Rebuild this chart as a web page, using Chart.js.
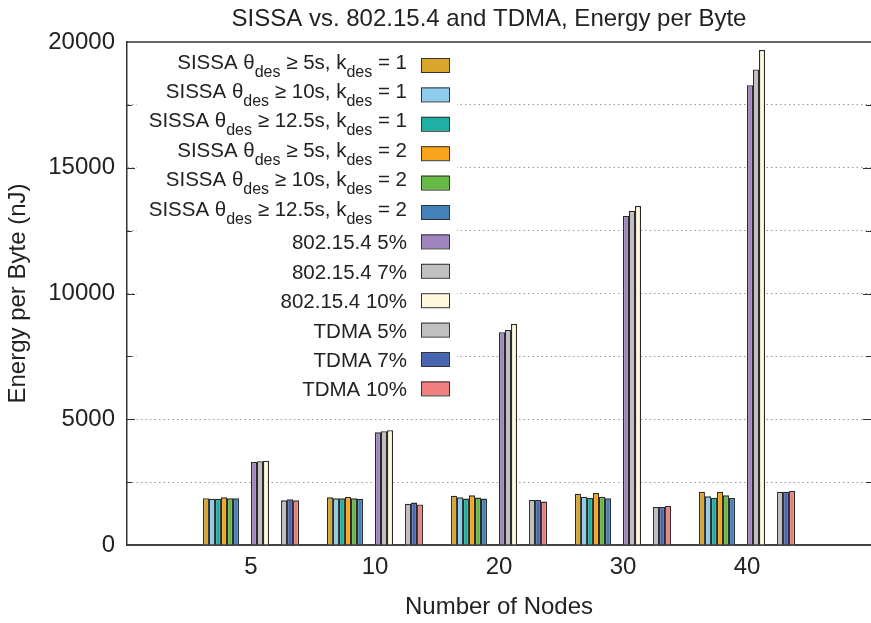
<!DOCTYPE html>
<html>
<head>
<meta charset="utf-8">
<title>SISSA vs. 802.15.4 and TDMA, Energy per Byte</title>
<script src="https://cdn.jsdelivr.net/npm/chart.js@4"></script>
<style>
  html, body { margin: 0; padding: 0; background: #fff; }
  #wrap { width: 871px; height: 623px; }
</style>
</head>
<body>
<div id="wrap"><canvas id="energyChart"></canvas></div>
<script>
// ---- Data: energy per byte (nJ) ----
const nodes = ['5', '10', '20', '30', '40'];

const sissa5k1   = [1860, 1895, 1960, 2040, 2120];
const sissa10k1  = [1840, 1855, 1895, 1920, 1935];
const sissa125k1 = [1840, 1855, 1845, 1880, 1880];
const sissa5k2   = [1895, 1910, 1975, 2070, 2120];
const sissa10k2  = [1855, 1855, 1885, 1915, 1975];
const sissa125k2 = [1855, 1840, 1845, 1855, 1870];
const ieee5      = [3300, 4480, 8460, 13080, 18280];
const ieee7      = [3330, 4520, 8550, 13290, 18910];
const ieee10     = [3350, 4560, 8790, 13480, 19680];
const tdma5      = [1775, 1645, 1790, 1510, 2120];
const tdma7      = [1815, 1685, 1790, 1510, 2120];
const tdma10     = [1775, 1615, 1725, 1550, 2145];

const yTicks = [0, 5000, 10000, 15000, 20000];

// legend text, "_{...}" marks a subscript
const series = [
    { label: 'SISSA θ_{des} ≥ 5s, k_{des} = 1',   data: sissa5k1,   color: '#d8a62a' },
    { label: 'SISSA θ_{des} ≥ 10s, k_{des} = 1',  data: sissa10k1,  color: '#8fcdee' },
    { label: 'SISSA θ_{des} ≥ 12.5s, k_{des} = 1', data: sissa125k1, color: '#1fb0a3' },
    { label: 'SISSA θ_{des} ≥ 5s, k_{des} = 2',   data: sissa5k2,   color: '#f9a51c' },
    { label: 'SISSA θ_{des} ≥ 10s, k_{des} = 2',  data: sissa10k2,  color: '#67b945' },
    { label: 'SISSA θ_{des} ≥ 12.5s, k_{des} = 2', data: sissa125k2, color: '#4381b8' },
    null, null,
    { label: '802.15.4 5%',  data: ieee5,  color: '#a086c0' },
    { label: '802.15.4 7%',  data: ieee7,  color: '#c0c0c0' },
    { label: '802.15.4 10%', data: ieee10, color: '#fff8dc' },
    null, null,
    { label: 'TDMA 5%',  data: tdma5,  color: '#c0c0c0' },
    { label: 'TDMA 7%',  data: tdma7,  color: '#4866b2' },
    { label: 'TDMA 10%', data: tdma10, color: '#f07f80' },
];

const FONT = "'Liberation Sans', Arial, sans-serif";
Chart.defaults.font.family = FONT;
Chart.defaults.color = '#222';

// one empty slot either side so categories sit at 1..5 of 0..6
const labels = ['', ...nodes, ''];
const pad = arr => [null, ...arr, null];

const datasets = series.map(s => s ? {
    label: s.label,
    data: pad(s.data),
    backgroundColor: s.color,
    borderColor: '#2a2a2a',
    borderWidth: 1.3,
} : {
    label: '',
    data: labels.map(() => null), // spacer column
});

// ---- gnuplot style frame, key and title ----
const gnuplotFrame = {
    id: 'gnuplotFrame',
    afterDraw(chart) {
        const { ctx, chartArea: a, scales: { y } } = chart;
        ctx.save();

        // top border
        ctx.strokeStyle = '#333';
        ctx.lineWidth = 1.5;
        ctx.beginPath();
        ctx.moveTo(a.left, a.top);
        ctx.lineTo(a.right, a.top);
        ctx.stroke();

        // inward tick marks
        ctx.lineWidth = 1;
        for (let v = 2500; v < 20000; v += 2500) {
            const py = Math.round(y.getPixelForValue(v)) + 0.5;
            const len = yTicks.includes(v) ? 8 : 5;
            ctx.beginPath();
            ctx.moveTo(a.left, py); ctx.lineTo(a.left + len, py);
            ctx.moveTo(a.right, py); ctx.lineTo(a.right - len, py);
            ctx.stroke();
        }

        // key background
        ctx.fillStyle = '#fff';
        ctx.fillRect(a.left + 10, a.top + 1, 320, 360);

        // key entries
        const keyFont = '20.5px ' + FONT;
        const subFont = '16px ' + FONT;
        const textRight = a.left + 280;
        let row = 0;
        series.forEach(s => {
            if (!s) return;
            const cy = a.top + 23 + row * 29.4;
            row++;
            const parts = s.label.split(/_\{([^}]*)\}/);
            const hasSub = parts.length > 1;
            const base = cy + (hasSub ? 3.5 : 8);
            const widths = parts.map((p, i) => {
                ctx.font = i % 2 ? subFont : keyFont;
                return ctx.measureText(p).width;
            });
            let x = textRight - widths.reduce((t, w) => t + w, 0);
            ctx.fillStyle = '#222';
            ctx.textAlign = 'left';
            ctx.textBaseline = 'alphabetic';
            parts.forEach((p, i) => {
                ctx.font = i % 2 ? subFont : keyFont;
                ctx.fillText(p, x, base + (i % 2 ? 8 : 0));
                x += widths[i];
            });
            ctx.fillStyle = s.color;
            ctx.fillRect(a.left + 294, cy - 7, 28, 14);
            ctx.strokeStyle = '#333';
            ctx.strokeRect(a.left + 294.5, cy - 6.5, 28, 14);
        });

        // title
        ctx.font = '24px ' + FONT;
        ctx.fillStyle = '#222';
        ctx.textAlign = 'center';
        ctx.fillText('SISSA vs. 802.15.4 and TDMA, Energy per Byte', (a.left + a.right) / 2 - 10, 26);
        ctx.restore();
    },
};

new Chart(document.getElementById('energyChart'), {
    type: 'bar',
    data: { labels, datasets },
    options: {
        responsive: true,
        maintainAspectRatio: false,
        animation: false,
        layout: { padding: { top: 42, left: 0, right: 0, bottom: 0 } },
        datasets: { bar: { categoryPercentage: 0.775, barPercentage: 1 } },
        plugins: {
            legend: { display: false },
            tooltip: { enabled: false },
        },
        scales: {
            x: {
                offset: false,
                grid: { display: false },
                border: { color: '#444', width: 2 },
                ticks: { font: { size: 24 }, padding: 0, maxRotation: 0, autoSkip: false },
                title: { display: true, text: 'Number of Nodes', font: { size: 24 }, padding: { top: 0, bottom: 1 } },
                afterFit: s => {
                    s.height = 78;
                    s.paddingLeft = 0;
                    s.paddingRight = 0;
                },
            },
            y: {
                min: 0,
                max: 20000,
                ticks: {
                    stepSize: 2500,
                    font: { size: 24 },
                    padding: 12,
                    callback: v => yTicks.includes(v) ? v : '',
                },
                grid: {
                    drawTicks: false,
                    lineWidth: 1,
                    color: c => (c.tick && (c.tick.value === 0 || c.tick.value === 20000)) ? 'rgba(0,0,0,0)' : '#999',
                },
                border: { color: '#333', width: 1.5, dash: [1.5, 3] },
                title: { display: true, text: 'Energy per Byte (nJ)', font: { size: 24 }, padding: { top: 4, bottom: 0 } },
                afterFit: s => { s.width = 127; },
            },
        },
    },
    plugins: [gnuplotFrame],
});
</script>
</body>
</html>
